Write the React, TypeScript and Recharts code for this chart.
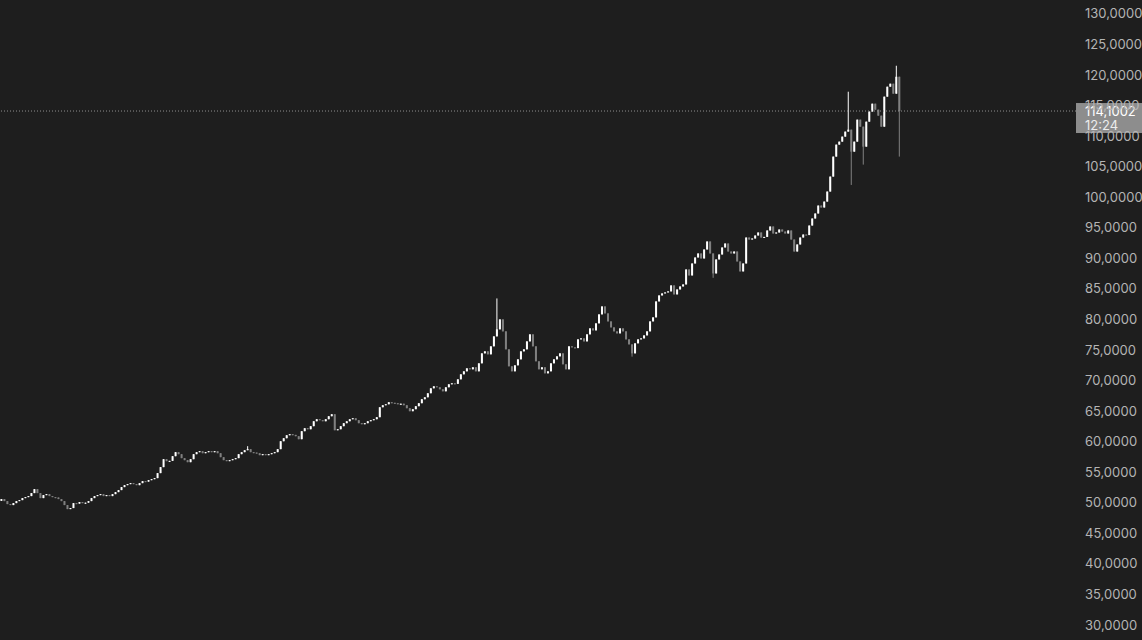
import React from 'react';
import { ComposedChart, Bar, XAxis, YAxis, ReferenceLine } from 'recharts';

// closing prices, one candle each, read left to right off the chart
const closes = [
  50.59, 50.26, 49.77, 49.61, 49.93, 50.26, 50.42, 50.75, 50.91, 51.08,
  51.57, 52.22, 51.57, 50.75, 51.24, 51.40, 51.08, 50.91, 50.85, 50.59,
  50.26, 49.61, 48.95, 49.12, 49.93, 49.85, 50.10, 49.93, 50.00, 50.26,
  50.75, 51.08, 51.24, 51.40, 51.08, 51.24, 51.08, 51.40, 51.73, 52.06,
  52.55, 52.87, 53.04, 53.20, 53.04, 52.87, 53.20, 53.53, 53.45, 53.69,
  53.85, 54.02, 54.84, 55.82, 57.12, 56.80, 56.85, 57.61, 58.27, 57.94,
  57.29, 56.96, 56.63, 57.12, 57.94, 58.27, 58.43, 58.10, 58.27, 58.43,
  58.27, 58.43, 58.10, 57.45, 56.96, 56.80, 56.96, 57.12, 57.29, 57.94,
  58.27, 58.59, 58.76, 58.27, 58.20, 58.10, 57.78, 57.94, 57.78, 57.94,
  58.10, 58.27, 58.76, 60.06, 60.55, 61.04, 61.21, 61.10, 60.88, 60.39,
  61.70, 62.19, 62.02, 62.52, 63.33, 63.66, 63.50, 63.33, 63.66, 64.15,
  64.48, 61.86, 62.02, 62.52, 63.01, 63.33, 63.66, 63.82, 63.50, 63.01,
  62.84, 63.01, 63.33, 63.50, 63.66, 63.99, 65.62, 65.95, 66.11, 66.44,
  66.35, 66.28, 66.11, 66.20, 65.95, 65.46, 64.97, 65.30, 65.79, 66.28,
  66.93, 67.25, 67.91, 68.72, 69.05, 68.89, 68.56, 68.23, 68.89, 69.38,
  69.54, 69.45, 70.19, 71.01, 71.50, 71.99, 71.83, 72.16, 71.50, 72.81,
  74.44, 74.77, 74.28, 75.59, 77.22, 78.37, 80.00, 78.04, 75.10, 72.32,
  71.50, 72.48, 73.46, 74.77, 75.10, 76.40, 77.55, 75.59, 73.14, 71.83,
  72.16, 71.17, 71.50, 72.81, 73.46, 73.95, 74.44, 72.65, 71.83, 75.59,
  75.42, 75.30, 76.73, 76.89, 76.40, 77.55, 78.53, 78.20, 79.35, 80.82,
  82.12, 80.98, 79.67, 78.69, 78.04, 77.71, 78.53, 78.04, 76.73, 75.91,
  74.44, 76.08, 76.73, 76.89, 77.38, 78.04, 79.67, 80.33, 82.94, 83.92,
  84.25, 84.41, 84.58, 85.56, 84.09, 84.90, 85.39, 85.72, 88.17, 87.19,
  89.15, 90.13, 90.79, 89.97, 91.44, 92.75, 90.79, 87.52, 89.81, 90.62,
  91.77, 92.42, 91.11, 90.79, 91.11, 89.48, 87.85, 89.15, 93.40, 93.07,
  93.24, 93.73, 94.22, 93.40, 93.50, 94.55, 95.20, 94.06, 94.22, 94.71,
  94.38, 94.06, 94.55, 93.07, 91.11, 92.26, 93.40, 93.89, 93.80, 95.36,
  96.51, 97.33, 98.63, 98.31, 99.28, 100.92, 103.37, 106.64, 108.60, 109.09,
  109.91, 110.73, 111.05, 107.45, 109.09, 112.69, 111.54, 108.27, 112.36, 114.01,
  115.30, 114.32, 113.34, 111.54, 116.45, 118.08, 118.57, 116.94, 119.71, 114.1002,
];
const firstOpen = 50.3;

// wicks that stick out past the bodies: [candle index, price]
const spikeHighs: [number, number][] = [
  [82, 59.25], [165, 83.43], [282, 117.26], [298, 121.51], [299, 116.3],
];
const spikeLows: [number, number][] = [
  [210, 73.9], [237, 86.8], [283, 102.0], [287, 105.33], [299, 106.64],
];

const yTicks = [30, 35, 40, 45, 50, 55, 60, 65, 70, 75, 80, 85, 90, 95, 100, 105, 110, 115, 120, 125, 130];
const lastPrice = 114.1002;
const lastTime = '12:24';

const highMap = new Map(spikeHighs);
const lowMap = new Map(spikeLows);

const data = closes.map((close, i) => {
  const open = i === 0 ? firstOpen : closes[i - 1];
  const high = Math.max(open, close, highMap.get(i) ?? -Infinity);
  const low = Math.min(open, close, lowMap.get(i) ?? Infinity);
  return { i, open, close, high, low, range: [low, high] };
});

const fmt = (v: number) => v.toFixed(4).replace('.', ',');

const Candle = (props: any) => {
  const { x, y, width, height, payload } = props;
  if (x == null || y == null) return null;
  const top = Math.min(y, y + height);
  const h = Math.abs(height);
  const { open, close, high, low } = payload;
  const perUnit = high > low ? h / (high - low) : 0;
  const cx = x + width / 2;
  const bodyTop = top + (high - Math.max(open, close)) * perUnit;
  const bodyH = Math.max(1, Math.abs(open - close) * perUnit);
  const color = close >= open ? '#ffffff' : '#808080';
  return (
    <g>
      <line x1={cx} x2={cx} y1={top} y2={top + Math.max(h, 1)} stroke={color} strokeWidth={1} />
      <rect x={cx - 1} y={bodyTop} width={2} height={bodyH} fill={color} />
    </g>
  );
};

const PriceTag = (props: any) => {
  const vb = props.viewBox || {};
  const right = (vb.x ?? 0) + (vb.width ?? 0);
  const vy = vb.y ?? 0;
  return (
    <g>
      <rect x={right} y={vy - 8} width={66} height={30} fill="#8d8d8d" />
      <text x={right + 9} y={vy + 4.5} fill="#ffffff" fontSize={13} fontFamily="Inter, sans-serif">
        {fmt(lastPrice)}
      </text>
      <text x={right + 9} y={vy + 19} fill="#ececec" fontSize={13} fontFamily="Inter, sans-serif">
        {lastTime}
      </text>
    </g>
  );
};

export default function App() {
  return (
    <div style={{ position: 'fixed', left: 0, top: 0, width: 1142, height: 640, background: '#1e1e1e' }}>
      <ComposedChart width={1142} height={640} data={data} margin={{ top: 0, right: 0, bottom: 0, left: 0 }}>
        <XAxis type="number" dataKey="i" domain={[-0.3, 358]} hide />
        <YAxis
          orientation="right"
          width={66}
          domain={[27.53, 132.27]}
          ticks={yTicks}
          interval={0}
          allowDataOverflow
          axisLine={false}
          tickLine={false}
          tickSize={0}
          tickMargin={9}
          tickFormatter={fmt}
          tick={{ fill: '#b4b4b4', fontSize: 13, fontFamily: 'Inter, sans-serif', textAnchor: 'start' }}
        />
        <Bar dataKey="range" barSize={2} shape={Candle} isAnimationActive={false} />
        <ReferenceLine y={lastPrice} stroke="#8f8f8f" strokeDasharray="1 2" label={PriceTag} />
      </ComposedChart>
    </div>
  );
}
